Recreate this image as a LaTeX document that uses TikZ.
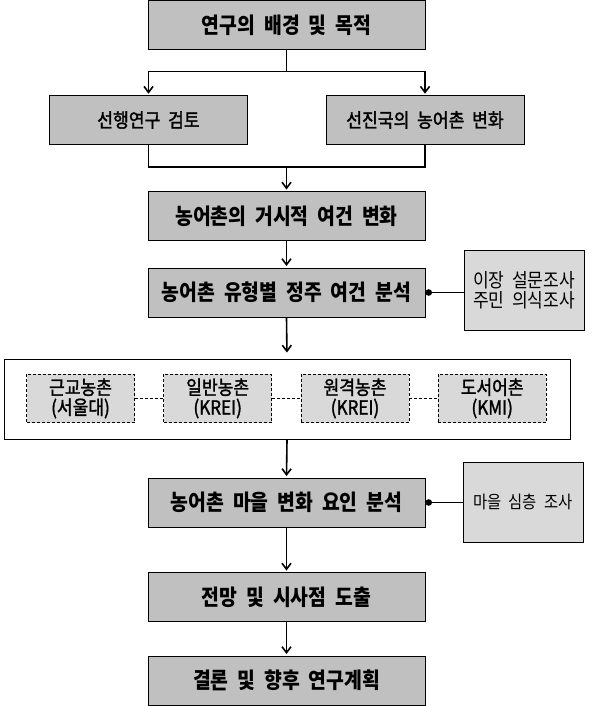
\documentclass[tikz,border=0pt]{standalone}
\usepackage{fontspec}
\setmainfont[WordSpace=2.0,FakeStretch=0.88]{Noto Sans CJK KR}
\newfontfamily\krmed[FakeBold=1.6,WordSpace=2.0,FakeStretch=0.88]{Noto Sans CJK KR}
\usetikzlibrary{arrows.meta}
\definecolor{maingray}{RGB}{192,192,192}
\definecolor{lightgray2}{RGB}{217,217,217}
\begin{document}
\begin{tikzpicture}[x=1pt,y=-1pt,
  mainbox/.style={draw=black,line width=0.9pt,fill=maingray,minimum width=277pt,minimum height=49pt,inner sep=0pt,
    font=\fontsize{22}{24}\selectfont\bfseries},
  subbox/.style={draw=black,line width=0.9pt,fill=maingray,minimum width=198pt,minimum height=48.6pt,inner sep=0pt,
    font=\fontsize{19.5}{20}\selectfont\krmed},
  sidebox/.style={draw=black,line width=0.9pt,fill=lightgray2,minimum width=120pt,minimum height=80pt,inner sep=0pt,align=center,
    font=\fontsize{19.4}{20.5}\selectfont},
  dbox/.style={draw=black,densely dashed,line width=0.6pt,fill=lightgray2,minimum width=108pt,minimum height=48.7pt,inner sep=0pt,align=center,
    font=\fontsize{19.4}{20}\selectfont\krmed},
  conn/.style={line width=1.6pt,line cap=rect},
  arr/.style={line width=1.6pt,-{Straight Barb[length=6pt,width=9pt]},shorten >=1.5pt},
  dotconn/.style={line width=1.6pt,{Circle[length=6.5pt,width=6.5pt]}-},
  dline/.style={densely dashed,line width=0.6pt}
]
\useasboundingbox (0,0) rectangle (608,706);

\node[mainbox] (top) at (286.5,25.3) {연구의 배경 및 목적};
\node[subbox] (left) at (148.5,120) {선행연구 검토};
\node[subbox] (right) at (425,120) {선진국의 농어촌 변화};
\node[mainbox] (b3) at (286.5,216) {농어촌의 거시적 여건 변화};
\node[mainbox] (b4) at (286.5,292.5) {농어촌 유형별 정주 여건 분석};
\node[sidebox] (s1) at (524,290.3) {이장 설문조사\\주민 의식조사};

\node[draw=black,line width=0.9pt,fill=white,minimum width=566pt,minimum height=80pt,inner sep=0pt] (wb) at (287,399) {};
\node[dbox] (d1) at (80.5,398.4) {근교농촌\\(서울대)};
\node[dbox] (d2) at (217.7,398.4) {일반농촌\\(KREI)};
\node[dbox] (d3) at (355,398.4) {원격농촌\\(KREI)};
\node[dbox] (d4) at (492.2,398.4) {도서어촌\\(KMI)};

\node[mainbox] (b5) at (286.5,502.5) {농어촌 마을 변화 요인 분석};
\node[sidebox,font=\fontsize{17.5}{19}\selectfont] (s2) at (523,502) {마을 심층 조사};
\node[mainbox] (b6) at (286.5,597) {전망 및 시사점 도출};
\node[mainbox] (b7) at (286.5,680.5) {결론 및 향후 연구계획};

\coordinate (br) at (286.5,71.7);
\coordinate (jn) at (286.5,166.7);

\draw[conn] (top.south) -- (br);
\draw[arr] (br) -| (left.north);
\draw[arr] (br) -| (right.north);
\draw[conn] (left.south) |- (jn) -| (right.south);
\draw[arr] (jn) -- (b3.north);
\draw[arr] (b3.south) -- (b4.north);
\draw[arr,shorten >=6pt] (b4.south) -- (wb.north);
\draw[arr] (wb.south) -- (b5.north);
\draw[arr] (b5.south) -- (b6.north);
\draw[arr] (b6.south) -- (b7.north);

\draw[dotconn] (b4.east) -- (b4.east -| s1.west);
\draw[dotconn] (b5.east) -- (b5.east -| s2.west);

\draw[dline] (d1.east) -- (d2.west);
\draw[dline] (d2.east) -- (d3.west);
\draw[dline] (d3.east) -- (d4.west);
\end{tikzpicture}
\end{document}
